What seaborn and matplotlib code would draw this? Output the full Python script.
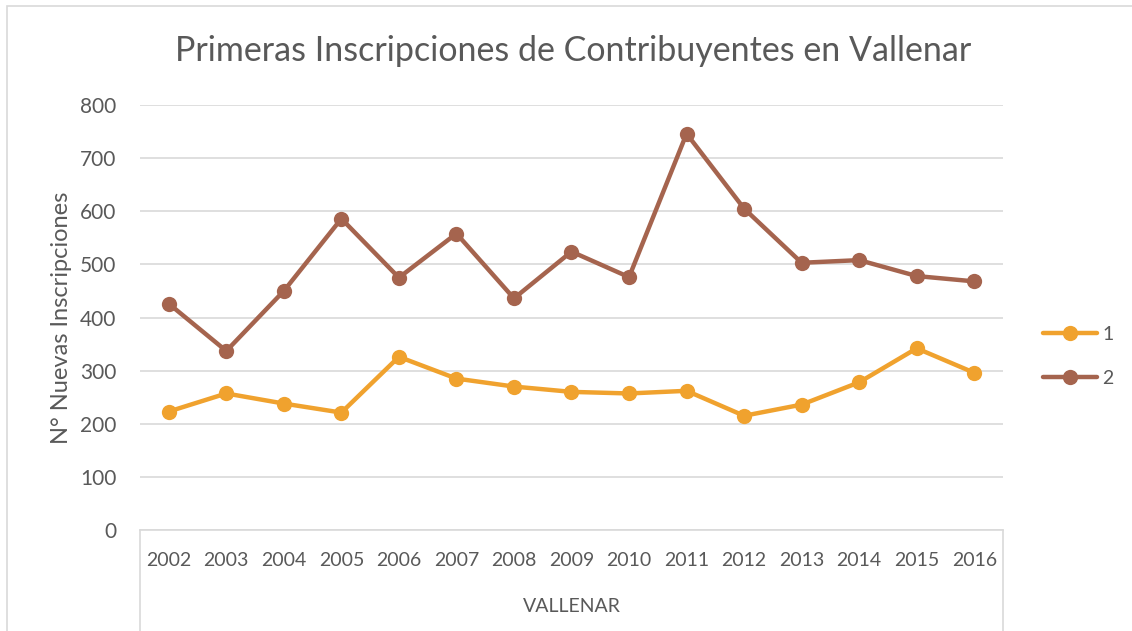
import pandas as pd
import seaborn as sns
import matplotlib.pyplot as plt
from matplotlib.patches import Rectangle

# Datos
anios = list(range(2002, 2017))
serie_1 = [223, 257, 238, 221, 326, 285, 270, 260, 257, 262, 215, 236, 278, 342, 296]
serie_2 = [426, 337, 450, 586, 475, 558, 436, 524, 476, 746, 605, 503, 508, 478, 468]
series = ["1", "2"]
colores = ["#F0A22E", "#A5644E"]

df = pd.DataFrame({
    "anio": anios * 2,
    "valor": serie_1 + serie_2,
    "serie": ["1"] * len(anios) + ["2"] * len(anios),
})

sns.set_style("white")
plt.rcParams["font.family"] = ["Lato", "DejaVu Sans"]
gris_texto = "#595959"
gris_linea = "#D9D9D9"

W, H = 1132, 631
fig = plt.figure(figsize=(W / 100, H / 100), dpi=100)

# borde del área del gráfico
fig.add_artist(Rectangle((7 / W, -0.1), 1.2, (H - 6) / H + 0.1, transform=fig.transFigure,
                         fill=False, edgecolor=gris_linea, linewidth=1.2))

ax = fig.add_axes([140 / W, (H - 530) / H, (1003 - 140) / W, (530 - 105) / H])
sns.lineplot(data=df, x="anio", y="valor", hue="serie", hue_order=series,
             palette=colores, marker="o", markersize=11, markeredgewidth=0,
             linewidth=3.2, ax=ax)

ax.set_xlim(2001.5, 2016.5)
ax.set_ylim(0, 800)
ax.set_yticks(range(0, 801, 100))
ax.set_xticks(anios)
ax.set_xticklabels([str(a) for a in anios])
ax.grid(axis="y", color=gris_linea, linewidth=1.2)
ax.set_axisbelow(True)
for lado in ["top", "right", "left"]:
    ax.spines[lado].set_visible(False)
ax.spines["bottom"].set_color(gris_linea)
ax.spines["bottom"].set_linewidth(1.2)
ax.tick_params(axis="y", length=0, labelsize=15, labelcolor=gris_texto, pad=17)
ax.tick_params(axis="x", length=0, labelsize=14, labelcolor=gris_texto, pad=16)

# líneas verticales del eje de categorías
for xv in [0, 1]:
    ax.plot([xv, xv], [0, -0.3], transform=ax.transAxes, color=gris_linea,
            linewidth=1.2, clip_on=False)
ax.text(0.5, -0.18, "VALLENAR", transform=ax.transAxes, ha="center", va="center",
        fontsize=14, color=gris_texto)

ax.set_xlabel("")
ax.set_ylabel("")
fig.text(62 / W, 1 - 318 / H, "N° Nuevas Inscripciones", rotation=90,
         ha="center", va="center", fontsize=17, color=gris_texto)
fig.text(573 / W, 1 - 51 / H, "Primeras Inscripciones de Contribuyentes en Vallenar",
         ha="center", va="center", fontsize=24.5, color=gris_texto)

ax.legend(loc="center left", bbox_to_anchor=(1043 / W, 1 - 356.5 / H),
          bbox_transform=fig.transFigure, frameon=False, borderaxespad=0, borderpad=0,
          fontsize=14, labelcolor=gris_texto, handlelength=2.8, handletextpad=0.25,
          labelspacing=1.4)

fig.savefig("out.png", dpi=100)
